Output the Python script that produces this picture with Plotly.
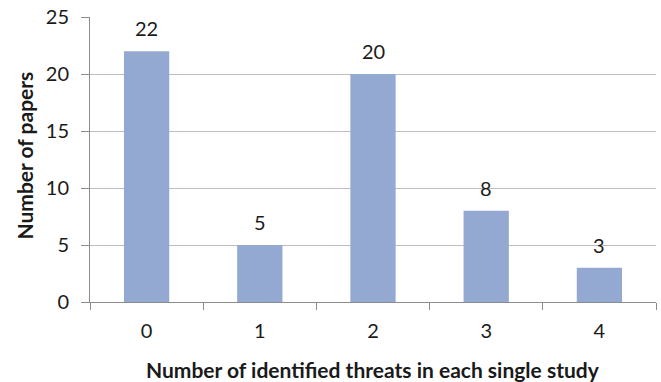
import plotly.graph_objects as go

categories = ["0", "1", "2", "3", "4"]
papers = [22, 5, 20, 8, 3]
y_ticks = [0, 5, 10, 15, 20, 25]

FONT = "Lato, Carlito, Open Sans, sans-serif"
TXT = "#1a1a1a"

fig = go.Figure()
fig.add_trace(go.Bar(
    x=categories, y=papers,
    marker=dict(color="#93A9D1", line=dict(width=0)),
    width=0.4,
))

for c, v in zip(categories, papers):
    fig.add_annotation(x=c, y=v, text=str(v), showarrow=False,
                       yanchor="middle", yshift=23,
                       font=dict(family=FONT, size=20, color=TXT))

fig.add_annotation(xref="paper", yref="paper", x=0.5, y=0,
                   text="<b>Number of identified threats in each single study</b>",
                   showarrow=False, yanchor="middle", yshift=-67,
                   font=dict(family=FONT, size=21, color=TXT))
fig.add_annotation(xref="paper", yref="paper", x=0, y=0.5,
                   text="<b>Number of papers</b>", textangle=-90,
                   showarrow=False, xanchor="center", yanchor="middle",
                   xshift=-66, yshift=4,
                   font=dict(family=FONT, size=21, color=TXT))

fig.update_layout(
    width=661, height=382,
    margin=dict(l=90, r=5, t=17, b=80),
    paper_bgcolor="white", plot_bgcolor="white",
    showlegend=False,
    font=dict(family=FONT, color=TXT),
    xaxis=dict(
        type="category", tickson="boundaries", ticks="outside", ticklen=7,
        tickcolor="#8c8c8c", showline=True, linecolor="#8c8c8c", linewidth=1,
        showgrid=False, tickfont=dict(size=20, family=FONT, color=TXT),
        ticklabelstandoff=11,
        automargin=False,
    ),
    yaxis=dict(
        range=[0, 25], tickvals=y_ticks, ticks="outside", ticklen=8,
        tickcolor="#8c8c8c", showline=True, linecolor="#8c8c8c", linewidth=1,
        showgrid=True, gridcolor="#bdbdbd", gridwidth=1, zeroline=False,
        tickfont=dict(size=20, family=FONT, color=TXT),
        ticklabelstandoff=8, ticklabeloverflow="allow",
        automargin=False,
    ),
)

fig.write_html("out.html",
               config={"displayModeBar": False, "staticPlot": True},
               post_script="document.body.style.margin='0';document.body.style.overflow='hidden';")
